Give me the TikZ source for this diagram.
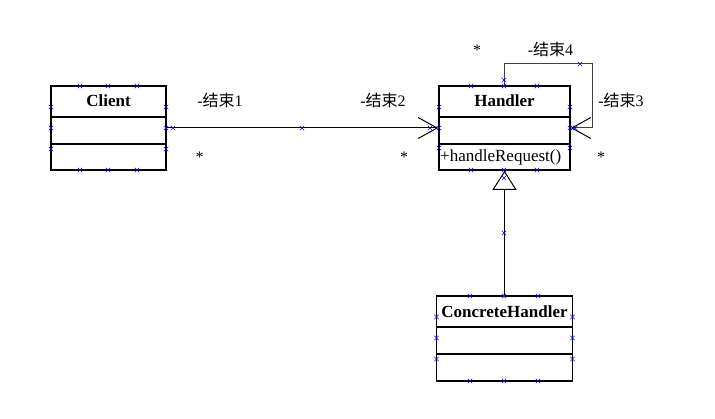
\documentclass[tikz,border=0pt]{standalone}
\usepackage{fontspec}
\setmainfont{Liberation Serif}
\newfontfamily\cjk{Noto Sans CJK SC}
\usetikzlibrary{arrows.meta}
\begin{document}
\begin{tikzpicture}[x=1pt,y=-1pt,
  classbox/.style={draw, line width=1.6pt, rectangle, inner sep=0pt},
  divider/.style={line width=1.6pt},
  conn/.style={line width=1pt},
  title/.style={font=\fontsize{17}{20}\selectfont\bfseries, inner sep=0pt},
  member/.style={font=\fontsize{17}{20}\selectfont, inner sep=0pt, anchor=west},
  lbl/.style={font=\fontsize{16}{19}\selectfont, inner sep=0pt},
  hmk/.pic={\draw[blue, line width=0.6pt] (-2.2,-2.2)--(2.2,2.2) (-2.2,2.2)--(2.2,-2.2);}
]
\useasboundingbox[fill=white] (0,0) rectangle (715,419);

% Client
\node[classbox, minimum width=115pt, minimum height=84pt] (client) at (108.5,128) {};
\draw[divider] (51,117) -- (166,117);
\draw[divider] (51,144) -- (166,144);
\node[title] (clientT) at (108.5,101) {Client};

% Handler
\node[classbox, minimum width=131pt, minimum height=84pt] (handler) at (504.5,128) {};
\draw[divider] (439,117) -- (570,117);
\draw[divider] (439,144) -- (570,144);
\node[title] (handlerT) at (504.5,101) {Handler};
\node[member] (handlerM) at (440,157) {+handleRequest()};

% ConcreteHandler
\node[classbox, minimum width=136pt, minimum height=85pt] (concrete) at (504.5,338.5) {};
\draw[divider] (436.5,327) -- (572.5,327);
\draw[divider] (436.5,354) -- (572.5,354);
\node[title] (concreteT) at (504.5,312) {ConcreteHandler};

% association Client -> Handler
\draw[conn, -{Straight Barb[length=19pt,width=21pt,line width=1pt]}] (client.east) -- (handler.west);

% self association
\coordinate (loopTR) at (592,64);
\draw[conn, draw=black!75, -{Straight Barb[length=19pt,width=21pt,line width=1pt,color=black]}] (handler.north) |- (loopTR) |- (handler.east);

% generalization
\draw[conn, -{Triangle[open,fill=white,length=19pt,width=24pt,line width=1pt]}] (concrete.north) -- (handler.south);

% labels
\node[lbl] (l1) at (220,100) {-{\cjk 结束}1};
\node[lbl] (l2) at (383,100) {-{\cjk 结束}2};
\node[lbl] (l3) at (621,100) {-{\cjk 结束}3};
\node[lbl] (l4) at (550.5,49) {-{\cjk 结束}4};
\node[lbl] (s1) at (199.5,157) {*};
\node[lbl] (s2) at (404,157) {*};
\node[lbl] (s3) at (477,50) {*};
\node[lbl] (s4) at (601,157) {*};

% selection handles
\foreach \x in {80,108,137} { \pic at (\x,86) {hmk}; \pic at (\x,170) {hmk}; }
\foreach \y in {107,128,149} { \pic at (51,\y) {hmk}; \pic at (166,\y) {hmk}; }
\pic at (173,128) {hmk};
\pic at (302,128) {hmk};
\foreach \x in {471,504,537} { \pic at (\x,86) {hmk}; \pic at (\x,170) {hmk}; }
\foreach \y in {107,128,148} { \pic at (439,\y) {hmk}; \pic at (570,\y) {hmk}; }
\pic at (504,80) {hmk};
\pic at (580,64) {hmk};
\pic at (430,128) {hmk};
\pic at (575,128) {hmk};
\pic at (504,178) {hmk};
\pic at (504,233) {hmk};
\foreach \x in {470,504,538} { \pic at (\x,296) {hmk}; \pic at (\x,381) {hmk}; }
\foreach \y in {317,338,359} { \pic at (436.5,\y) {hmk}; \pic at (572.5,\y) {hmk}; }
\end{tikzpicture}
\end{document}
